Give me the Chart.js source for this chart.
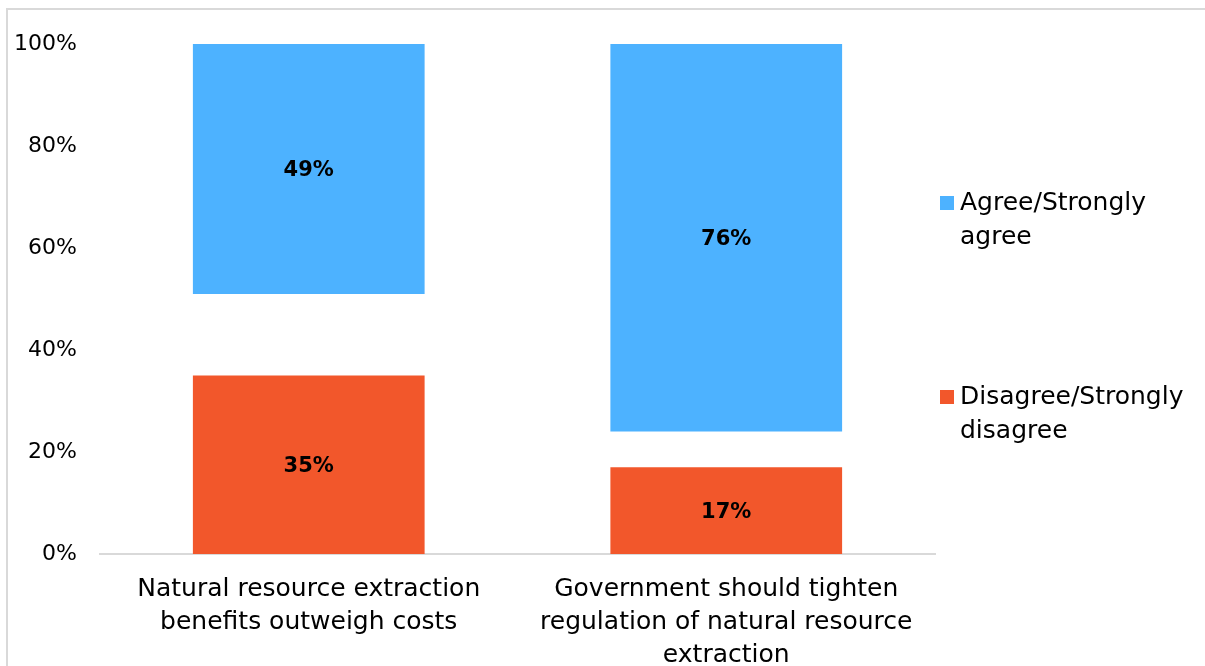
<!DOCTYPE html>
<html>
<head>
<meta charset="utf-8">
<script src="https://cdn.jsdelivr.net/npm/chart.js@4"></script>
<style>
  html, body { margin: 0; padding: 0; background: #fff; overflow: hidden; }
  #frame { position: absolute; left: 6px; top: 8px; width: 1300px; height: 800px; border: 2px solid #d9d9d9; }
  #wrap { position: absolute; left: 0; top: 0; width: 1205px; height: 666px; }
</style>
</head>
<body>
<div id="frame"></div>
<div id="wrap"><canvas id="chart"></canvas></div>
<script>
const categories = [
    ['Natural resource extraction', 'benefits outweigh costs'],
    ['Government should tighten', 'regulation of natural resource', 'extraction']
];
const agree = [49, 76];
const disagree = [35, 17];
const agreeLegend = ['Agree/Strongly', 'agree'];
const disagreeLegend = ['Disagree/Strongly', 'disagree'];
const yTicks = [0, 20, 40, 60, 80, 100];

const BLUE = '#4db2ff';
const ORANGE = '#f2572b';
const FONT = '"DejaVu Sans", sans-serif';

// the undecided share sits between the two bars and is left blank
const neither = agree.map((a, i) => 100 - a - disagree[i]);

const valueLabels = {
    id: 'valueLabels',
    afterDatasetsDraw(chart) {
        const ctx = chart.ctx;
        ctx.save();
        ctx.font = 'bold 21px ' + FONT;
        ctx.fillStyle = '#000';
        ctx.textAlign = 'center';
        ctx.textBaseline = 'middle';
        chart.data.datasets.forEach((ds, di) => {
            if (!ds.showValue) return;
            chart.getDatasetMeta(di).data.forEach((bar, i) => {
                ctx.fillText(ds.data[i] + '%', bar.x, (bar.y + bar.base) / 2 + 2);
            });
        });
        ctx.restore();
    }
};

// wrapped legend on the right, Chart.js legend can't break lines
const sideLegend = {
    id: 'sideLegend',
    afterDraw(chart) {
        const ctx = chart.ctx;
        const items = [
            { lines: agreeLegend, color: BLUE, y: 203 },
            { lines: disagreeLegend, color: ORANGE, y: 397 }
        ];
        ctx.save();
        ctx.font = '25px ' + FONT;
        ctx.textBaseline = 'middle';
        ctx.textAlign = 'left';
        items.forEach(it => {
            ctx.fillStyle = it.color;
            ctx.fillRect(940, it.y - 7, 14, 14);
            ctx.fillStyle = '#000';
            it.lines.forEach((t, k) => ctx.fillText(t, 960, it.y + k * 34));
        });
        ctx.restore();
    }
};

new Chart(document.getElementById('chart'), {
    type: 'bar',
    data: {
        labels: categories,
        datasets: [
            { label: 'Disagree/Strongly disagree', data: disagree, backgroundColor: ORANGE, showValue: true },
            { label: 'Neither', data: neither, backgroundColor: 'rgba(0,0,0,0)' },
            { label: 'Agree/Strongly agree', data: agree, backgroundColor: BLUE, showValue: true }
        ]
    },
    options: {
        responsive: true,
        maintainAspectRatio: false,
        animation: false,
        categoryPercentage: 0.555,
        barPercentage: 1,
        layout: { padding: { left: 0, right: 270, top: 44, bottom: 0 } },
        scales: {
            x: {
                stacked: true,
                grid: { display: false, drawTicks: false },
                border: { display: true, color: '#d9d9d9', width: 2 },
                ticks: { color: '#000', padding: 19, font: { family: FONT, size: 25, lineHeight: 1.32 } },
                afterFit(scale) { scale.height = 112; }
            },
            y: {
                stacked: true,
                min: 0,
                max: 100,
                grid: { display: false, drawTicks: false },
                border: { display: false },
                afterBuildTicks(scale) { scale.ticks = yTicks.map(v => ({ value: v })); },
                ticks: {
                    color: '#000',
                    padding: 23,
                    font: { family: FONT, size: 22 },
                    callback: v => v + '%'
                },
                afterFit(scale) { scale.width = 100; }
            }
        },
        plugins: {
            legend: { display: false },
            tooltip: { enabled: false }
        }
    },
    plugins: [valueLabels, sideLegend]
});
</script>
</body>
</html>
